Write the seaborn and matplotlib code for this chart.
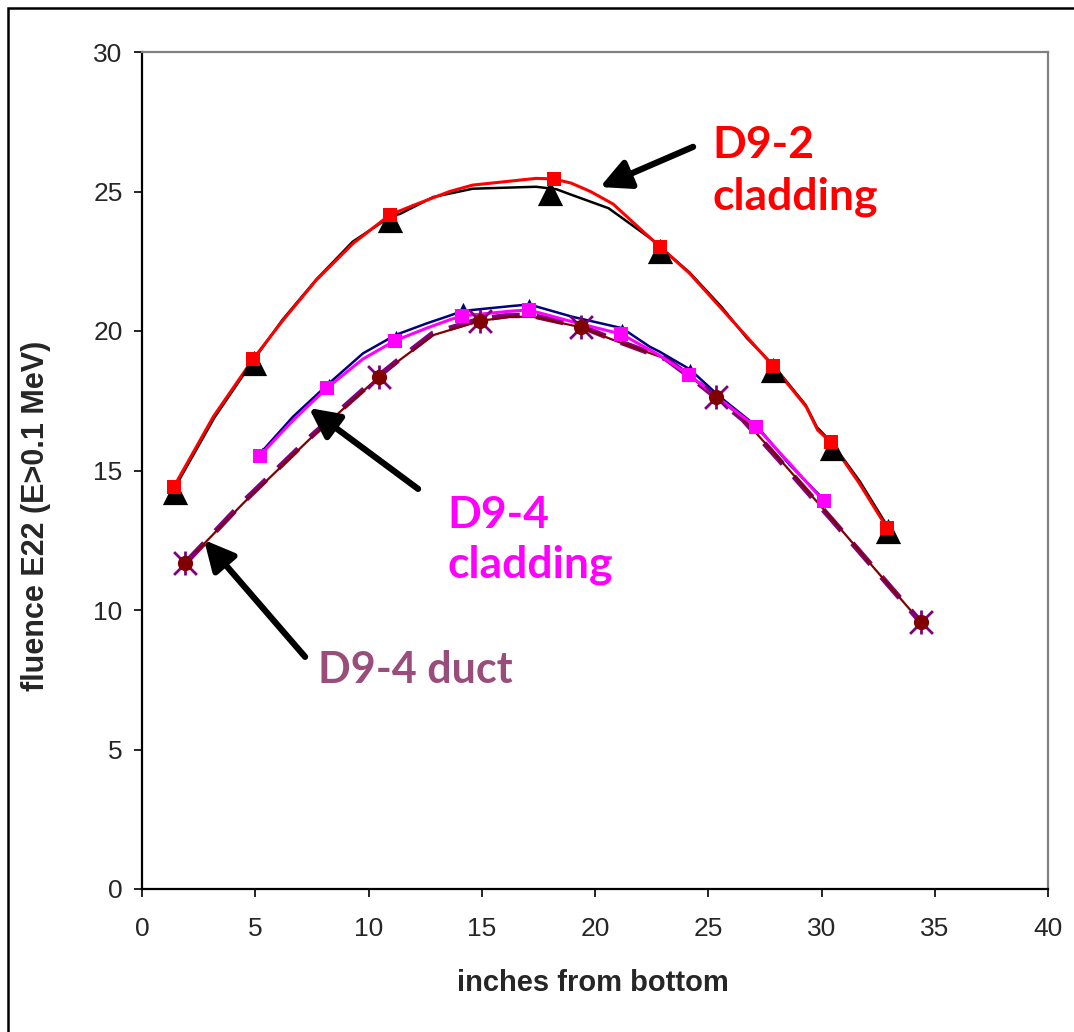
import matplotlib
matplotlib.use('Agg')
import matplotlib.pyplot as plt
import seaborn as sns
from matplotlib.patches import Rectangle

# D9-2 cladding: black triangles + black curve
tri_x = [1.46, 4.94, 10.97, 18.0, 22.88, 27.88, 30.45, 32.95]
tri_y = [14.24, 18.84, 23.98, 24.93, 22.88, 18.6, 15.8, 12.83]
blk_x = [1.46, 3.2, 4.94, 6.2, 7.7, 9.3, 10.97, 11.4, 12.85, 14.6, 17.4, 18.3, 19.0,
         20.6, 22.55, 22.9, 24.17, 25.6, 26.7, 27.9, 29.3, 29.8, 30.45, 31.7, 32.95]
blk_y = [14.4, 16.9, 18.98, 20.4, 21.85, 23.2, 24.1, 24.2, 24.8, 25.1, 25.17, 25.08, 24.87,
         24.4, 23.26, 23.0, 22.1, 20.85, 19.75, 18.75, 17.35, 16.55, 16.0, 14.6, 12.95]

# D9-2 cladding: red squares + red curve
red_x = [1.41, 4.91, 10.94, 18.19, 22.86, 27.85, 30.42, 32.9]
red_y = [14.42, 19.0, 24.16, 25.45, 23.02, 18.76, 16.01, 12.93]
redl_x = [1.41, 3.15, 4.91, 6.23, 7.7, 9.32, 10.94, 11.97, 13.58, 14.6, 17.4, 18.19, 18.95,
          19.8, 20.8, 22.86, 24.17, 25.64, 27.85, 29.32, 29.83, 30.42, 31.67, 32.9]
redl_y = [14.42, 16.93, 19.0, 20.39, 21.83, 23.14, 24.16, 24.5, 25.0, 25.23, 25.47, 25.45, 25.3,
          25.0, 24.55, 23.02, 22.07, 20.75, 18.76, 17.29, 16.45, 16.01, 14.54, 12.93]

# D9-4 cladding: navy triangles + navy curve
nv_x = [5.28, 8.25, 11.2, 14.17, 17.1, 21.2, 24.2, 27.19, 30.2]
nv_y = [15.67, 18.12, 19.86, 20.87, 20.99, 20.1, 18.66, 16.62, 13.88]
nvl_x = [5.28, 6.67, 8.25, 9.76, 11.2, 12.56, 13.58, 14.17, 16.38, 17.1, 19.0, 21.2,
         22.41, 22.85, 24.2, 25.5, 27.19, 28.6, 30.2]
nvl_y = [15.67, 16.93, 18.12, 19.2, 19.86, 20.27, 20.55, 20.72, 20.9, 20.95, 20.51, 20.1,
         19.44, 19.26, 18.62, 17.65, 16.55, 15.2, 13.88]

# D9-4 cladding: magenta squares + magenta curve
mg_x = [5.2, 8.18, 11.16, 14.13, 17.1, 21.16, 24.17, 27.11, 30.1]
mg_y = [15.53, 17.97, 19.65, 20.54, 20.75, 19.89, 18.42, 16.57, 13.9]
mgl_x = [5.2, 6.67, 8.18, 9.76, 11.16, 12.56, 13.58, 14.13, 16.38, 17.1, 19.0, 21.16,
         22.8, 24.17, 25.6, 27.11, 28.6, 30.1]
mgl_y = [15.53, 16.8, 17.97, 19.0, 19.65, 20.1, 20.4, 20.54, 20.72, 20.75, 20.33, 19.89,
         19.15, 18.42, 17.5, 16.57, 15.25, 13.9]

# D9-4 duct: maroon circles / purple stars + maroon and purple dashed curves
dc_x = [1.9, 10.47, 14.91, 19.4, 25.35, 34.39]
dc_y = [11.67, 18.36, 20.36, 20.13, 17.65, 9.56]
mr_x = [1.9, 4.5, 7.5, 10.47, 11.38, 12.85, 14.91, 16.23, 17.25, 19.4, 20.8, 23.14,
        24.3, 25.35, 26.53, 28.44, 30.5, 32.4, 34.39]
mr_y = [11.67, 13.85, 16.2, 18.36, 18.96, 19.85, 20.36, 20.51, 20.51, 20.13, 19.68, 19.0,
        18.3, 17.65, 16.87, 15.14, 13.23, 11.43, 9.56]
pu_x = [1.9, 4.5, 7.5, 10.47, 11.38, 12.85, 14.91, 16.23, 17.25, 19.4, 20.8, 23.14,
        24.3, 25.35, 26.53, 28.44, 30.5, 32.4, 34.39]
pu_y = [11.67, 13.9, 16.25, 18.4, 19.0, 19.92, 20.42, 20.56, 20.55, 20.16, 19.7, 19.0,
        18.3, 17.62, 16.83, 15.1, 13.2, 11.42, 9.56]

sns.set_style('white')
plt.rcParams['font.family'] = ['Liberation Sans', 'DejaVu Sans']

fig = plt.figure(figsize=(10.74, 10.32), dpi=100)
ax = fig.add_axes([142 / 1074, 1 - 889 / 1032, 906 / 1074, 837 / 1032])


def curve(x, y, color, lw, z):
    sns.lineplot(x=x, y=y, ax=ax, color=color, linewidth=lw, sort=False,
                 estimator=None, zorder=z)
    return ax.lines[-1]


# duct curves
dash = curve(pu_x, pu_y, '#800080', 4.0, 2)
dash.set_dashes([5, 3])
curve(mr_x, mr_y, '#800000', 1.6, 2.1)
# D9-4 cladding curves
curve(nvl_x, nvl_y, '#000080', 1.8, 2.2)
curve(mgl_x, mgl_y, '#FF00FF', 2.2, 2.3)
# D9-2 cladding curves
curve(blk_x, blk_y, 'black', 1.8, 2.4)
curve(redl_x, redl_y, '#FF0000', 2.2, 2.5)

# markers
sns.scatterplot(x=dc_x, y=dc_y, ax=ax, marker='x', s=270, color='#800080', linewidth=2, zorder=4)
sns.scatterplot(x=dc_x, y=dc_y, ax=ax, marker='|', s=300, color='#800080', linewidth=2, zorder=4)
sns.scatterplot(x=dc_x, y=dc_y, ax=ax, marker='o', s=120, color='#800000', linewidth=0, zorder=5)
sns.scatterplot(x=nv_x, y=nv_y, ax=ax, marker='^', s=45, color='#000080', linewidth=0, zorder=4)
sns.scatterplot(x=mg_x, y=mg_y, ax=ax, marker='s', s=110, color='#FF00FF', linewidth=0, zorder=5)
sns.scatterplot(x=tri_x, y=tri_y, ax=ax, marker='^', s=330, color='black', linewidth=0, zorder=4)
sns.scatterplot(x=red_x, y=red_y, ax=ax, marker='s', s=110, color='#FF0000', linewidth=0, zorder=5)

ax.set_xlim(0, 40)
ax.set_ylim(0, 30)
ax.set_xticks(range(0, 41, 5))
ax.set_yticks(range(0, 31, 5))
ax.tick_params(axis='both', labelsize=19, direction='out', length=6, width=1.2, color='black')
ax.tick_params(axis='x', pad=14, bottom=True)
ax.tick_params(axis='y', pad=8, left=True)
ax.set_xlabel('')
ax.set_ylabel('')
for side in ['left', 'bottom']:
    ax.spines[side].set_color('black')
    ax.spines[side].set_linewidth(1.6)
for side in ['top', 'right']:
    ax.spines[side].set_color('#808080')
    ax.spines[side].set_linewidth(1.6)

fig.text(593 / 1074, 1 - 983 / 1032, 'inches from bottom', ha='center', va='center',
         fontsize=21, fontweight='bold')
fig.text(36 / 1074, 1 - 516 / 1032, 'fluence E22 (E>0.1 MeV)', ha='center', va='center',
         rotation=90, fontsize=22, fontweight='bold')

# arrows
arrow = dict(arrowstyle='-|>,head_length=0.9,head_width=0.45', color='black', lw=4.5,
             mutation_scale=20, shrinkA=0, shrinkB=0)
ax.annotate('', xy=(20.22, 25.16), xytext=(24.33, 26.6), arrowprops=arrow)
ax.annotate('', xy=(7.37, 17.24), xytext=(12.19, 14.34), arrowprops=arrow)
ax.annotate('', xy=(2.74, 12.51), xytext=(7.2, 8.32), arrowprops=arrow)

lab = dict(fontsize=32, fontweight='bold', family=['Lato', 'DejaVu Sans'], va='baseline', ha='left')
ax.text(25.17, 26.2, 'D9-2', color='#FF0000', **lab)
ax.text(25.17, 24.34, 'cladding', color='#FF0000', **lab)
ax.text(13.47, 12.94, 'D9-4', color='#FF00FF', **lab)
ax.text(13.47, 11.15, 'cladding', color='#FF00FF', **lab)
ax.text(7.77, 7.38, 'D9-4 duct', color='#994D7A', fontsize=31, fontweight='bold',
        family=['Lato', 'DejaVu Sans'], va='baseline', ha='left')

fig.patches.append(Rectangle((8 / 1074, -0.05), 1.2, 1 - 8 / 1032 + 0.05,
                             transform=fig.transFigure, fill=False, edgecolor='black', lw=1.8))

fig.savefig('out.png', dpi=100)
